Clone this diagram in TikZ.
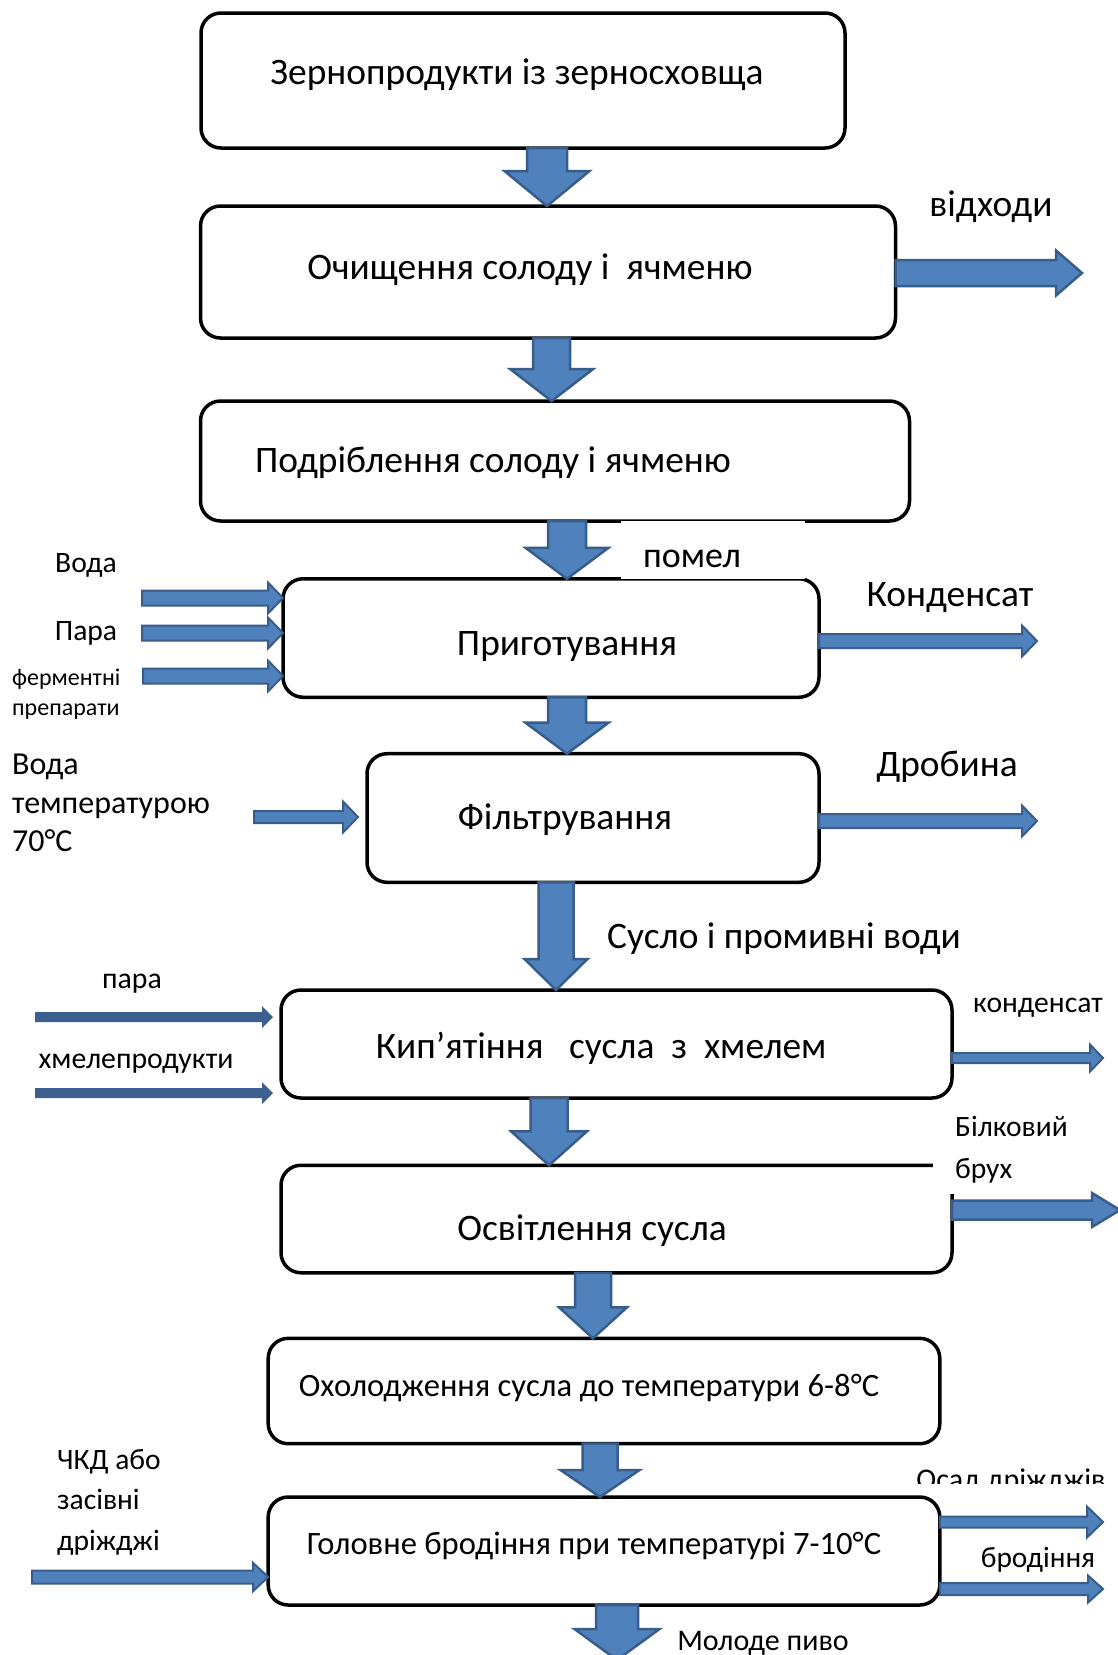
\documentclass[tikz,border=0pt]{standalone}
\usepackage{fontspec}
\setmainfont{Carlito}
\usetikzlibrary{calc}

\definecolor{flowfill}{HTML}{4F81BD}
\definecolor{flowedge}{HTML}{385D8A}
\definecolor{flowflat}{HTML}{3D5F8F}

\newcommand\fs[2]{\fontsize{#1}{#2}\selectfont}

% block arrow pointing down: top point, tip point, shaft half-width, head half-width, head length, style
\newcommand\flowdown[6]{%
  \path[#6] let \p1=(#1), \p2=(#2) in
    (\x1-#3pt,\y1) -- (\x1+#3pt,\y1) -- (\x1+#3pt,\y2+#5pt) -- (\x1+#4pt,\y2+#5pt)
    -- (\x1,\y2) -- (\x1-#4pt,\y2+#5pt) -- (\x1-#3pt,\y2+#5pt) -- cycle;}

% block arrow pointing right: start point, tip point, shaft half-height, head half-height, head length, style
\newcommand\flowright[6]{%
  \path[#6] let \p1=(#1), \p2=(#2) in
    (\x1,\y1-#3pt) -- (\x2-#5pt,\y1-#3pt) -- (\x2-#5pt,\y1-#4pt) -- (\x2,\y1)
    -- (\x2-#5pt,\y1+#4pt) -- (\x2-#5pt,\y1+#3pt) -- (\x1,\y1+#3pt) -- cycle;}

\tikzset{
  stage/.style={draw=black, line width=3.5pt, rounded corners=20pt, inner sep=0pt, outer sep=0pt},
  lbl/.style={inner sep=0pt, yshift=-2.2pt, font=\fs{37.4}{44}},
  side/.style={inner sep=0pt, yshift=-2.2pt, align=left},
  block/.style={fill=flowfill, draw=flowedge, line width=2.5pt, line join=miter},
  slim/.style={fill=flowfill, draw=flowedge, line width=2pt, line join=miter},
  flat/.style={fill=flowflat, draw=none},
}

\begin{document}
\begin{tikzpicture}[x=1pt,y=-1pt]
\useasboundingbox (0,0) rectangle (1118,1655);
\fill[white] (0,0) rectangle (1118,1655);

% process stages
\node[stage, minimum width=644, minimum height=135]   (b1) at (523,80.5) {};
\node[stage, minimum width=695, minimum height=132]   (b2) at (548,272) {};
\node[stage, minimum width=709, minimum height=120]   (b3) at (555,461) {};
\node[stage, minimum width=536, minimum height=118.5] (b4) at (551,638) {};
\node[stage, minimum width=452, minimum height=128.6] (b5) at (593,818) {};
\node[stage, minimum width=671, minimum height=108]   (b6) at (616.5,1044) {};
\node[stage, minimum width=671, minimum height=107.5] (b7) at (616.5,1219) {};
\node[stage, minimum width=671.6, minimum height=105.4] (b8) at (604,1391) {};
\node[stage, minimum width=671.6, minimum height=108] (b9) at (604,1551) {};

% white label backgrounds lying over the stage borders
\fill[white] (621,521) rectangle (805,578.5);
\fill[white] (933,1105) rectangle (1120,1194);

% free ends of the side flows
\coordinate (in-water)   at (142,598);
\coordinate (in-steam)   at (142,633);
\coordinate (in-enzyme)  at (143,676);
\coordinate (in-hot)     at (254,817);
\coordinate (in-hot-end) at (358,817);
\coordinate (in-steam2)  at (35,1017);
\coordinate (in-steam2-end) at (273,1017);
\coordinate (in-hops)    at (35,1093);
\coordinate (in-hops-end) at (273,1093);
\coordinate (in-yeast)   at (32,1577);
\coordinate (out-waste)  at (1082,273);
\coordinate (out-cond)   at (1037,641);
\coordinate (out-grain)  at (1037,821);
\coordinate (out-cond2)  at (1103,1058);
\coordinate (out-trub)   at (1120,1210);
\coordinate (out-sed)    at (1103,1522);
\coordinate (out-ferm)   at (1103,1589);
\coordinate (out-beer)   at (617,1660);

% main flow between stages
\flowdown{547,0 |- b1.south}{547,0 |- b2.north}{20}{42.5}{35}{block}
\flowdown{551.6,0 |- b2.south}{551.6,0 |- b3.north}{18.5}{41.5}{32}{block}
\flowdown{567,0 |- b3.south}{567,0 |- b4.north}{19}{41.5}{31}{block}
\flowdown{567,0 |- b4.south}{567,0 |- b5.north}{19}{41.5}{31}{block}
\flowdown{556,0 |- b5.south}{556,0 |- b6.north}{17.5}{31.5}{31}{block}
\flowdown{549,0 |- b6.south}{549,0 |- b7.north}{18.5}{38}{34}{block}
\flowdown{593,0 |- b7.south}{593,0 |- b8.north}{18}{34}{31}{block}
\flowdown{600,0 |- b8.south}{600,0 |- b9.north}{17.5}{39.5}{27}{block}
\flowdown{617,0 |- b9.south}{out-beer}{21}{42.5}{31}{block}

% outputs
\flowright{b2.east |- out-waste}{out-waste}{13}{22.5}{26}{block}
\flowright{b4.east |- out-cond}{out-cond}{7}{15.5}{15}{slim}
\flowright{b5.east |- out-grain}{out-grain}{7}{15.5}{15}{slim}
\flowright{b6.east |- out-cond2}{out-cond2}{5}{13.5}{13}{slim}
\flowright{b7.east |- out-trub}{out-trub}{9.5}{17}{28}{block}
\flowright{b9.east |- out-sed}{out-sed}{5.5}{15.5}{16}{slim}
\flowright{b9.east |- out-ferm}{out-ferm}{6}{13.5}{15}{slim}

% inputs
\flowright{in-water}{in-water -| b4.west}{7.5}{15.5}{15}{slim}
\flowright{in-steam}{in-steam -| b4.west}{7.5}{15.5}{15}{slim}
\flowright{in-enzyme}{in-enzyme -| b4.west}{7.5}{15.5}{15}{slim}
\flowright{in-hot}{in-hot-end}{6}{15.5}{15}{slim}
\flowright{in-steam2}{in-steam2-end}{5}{11}{11}{flat}
\flowright{in-hops}{in-hops-end}{5}{11}{11}{flat}
\flowright{in-yeast}{in-yeast -| b9.west}{6.5}{14}{15}{slim}

% stage captions
\node[lbl] (t1) at (517,72)   {Зернопродукти із зерносховща};
\node[lbl] (t2) at (530,267)  {Очищення солоду і\ \ ячменю};
\node[lbl] (t3) at (493,460)  {Подріблення солоду і ячменю};
\node[lbl] (t4) at (567,644)  {Приготування};
\node[lbl] (t5) at (565,817)  {Фільтрування};
\node[lbl] (t6) at (601,1046) {Кип’ятіння\ \ \ сусла\ \ з\ \ хмелем};
\node[lbl] (t7) at (592,1228) {Освітлення сусла};
\node[lbl, font=\fs{32.6}{38}] (t8) at (589,1386) {Охолодження сусла до температури 6-8°C};
\node[lbl, font=\fs{32.6}{38}] (t9) at (594,1544) {Головне бродіння при температурі 7-10°C};

% flow captions
\node[lbl, font=\fs{36}{42}] (l-meal)  at (692,557)  {помел};
\node[lbl] (l-wort)  at (784,936)  {Сусло і промивні води};
\node[lbl, font=\fs{30}{36}] (l-beer)  at (763,1641) {Молоде пиво};
\node[lbl] (l-waste) at (991,204)  {відходи};
\node[lbl] (l-cond)  at (950,595)  {Конденсат};
\node[lbl] (l-grain) at (947,765)  {Дробина};
\node[lbl, font=\fs{29.6}{35}] (l-water) at (86,563) {Вода};
\node[lbl, font=\fs{29.6}{35}] (l-steam) at (86,631) {Пара};
\node[side, font=\fs{24}{30}, anchor=west] (l-enzyme) at (12,692) {ферментні\\препарати};
\node[side, font=\fs{32}{38.5}, anchor=west] (l-hot) at (12,801) {Вода\\температурою\\70°C};
\node[lbl, font=\fs{29.8}{35}] (l-steam2) at (132,981)  {пара};
\node[lbl, font=\fs{29.8}{35}] (l-hops)   at (136,1061) {хмелепродукти};
\node[lbl, font=\fs{29.6}{35}] (l-cond2)  at (1038,1006) {конденсат};
\node[side, font=\fs{29.5}{42}, anchor=west] (l-trub) at (955,1148) {Білковий\\брух};
\node[side, font=\fs{29.5}{40.5}, anchor=west] (l-yeast) at (57,1500) {ЧКД або\\засівні\\дріжджі};
\begin{scope}
  \clip (850,1440) rectangle (1118,1483);
  \node[lbl, yshift=2.2pt, font=\fs{30}{36}, anchor=base] (l-sed) at (1011,1489) {Осад дріжджів};
\end{scope}
\node[lbl, font=\fs{29.4}{35}] (l-ferm) at (1038,1558) {бродіння};
\end{tikzpicture}
\end{document}
